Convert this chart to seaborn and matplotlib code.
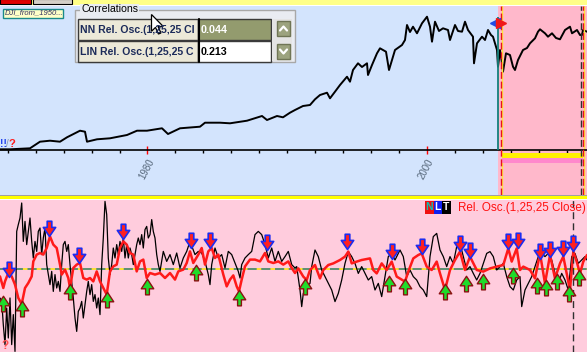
import matplotlib
matplotlib.use("Agg")
import matplotlib.pyplot as plt
import seaborn as sns
from matplotlib.path import Path
from matplotlib.patches import Rectangle, Polygon

# ---- data (x = bar number, 14 bars per year) ----
price_bar = [0, 10, 30, 40, 50, 60, 67, 80, 85, 87, 97, 110, 127, 137, 147, 162, 168, 180, 200, 205,
             220, 230, 247, 262, 267, 277, 283, 290, 295, 303, 310, 315, 320, 327, 330, 335, 340, 347,
             350, 353, 358, 362, 367, 368, 372, 377, 380, 386, 389, 395, 402, 405, 407, 410, 413, 417,
             422, 427, 430, 432, 435, 439, 443, 448, 450, 455, 458, 462, 465, 468, 473, 474, 477, 482,
             485, 488, 491, 493, 497, 498, 500, 502, 503, 506, 510, 513, 515, 518, 523, 527, 530, 535,
             538, 540, 545, 548, 552, 556, 560, 565, 570, 572, 577, 580, 582, 583, 587]
price_val = [70, 70, 170, 830, 930, 830, 1270, 1930, 1830, 830, 1070, 1170, 1500, 1930, 1930, 2170, 1600,
             2170, 2330, 2730, 2730, 2670, 2930, 3400, 3000, 3400, 3270, 3730, 4000, 4400, 4500, 5070,
             5500, 5730, 5170, 5830, 6500, 7330, 6830, 8000, 8670, 8300, 8670, 7500, 8500, 9670, 10170,
             9830, 8000, 10000, 10500, 11000, 12500, 11800, 12330, 11670, 12670, 13330, 12330, 10830,
             12830, 11900, 12170, 12000, 11000, 12500, 11900, 11830, 12830, 12000, 11330, 8670, 10670,
             11330, 11000, 12000, 11500, 11330, 10000, 8330, 10000, 8670, 7830, 9670, 9500, 8330, 8000,
             9000, 10000, 10200, 10670, 11170, 11830, 12070, 11670, 11330, 11670, 11200, 11070, 12000,
             12330, 11670, 12000, 11500, 11500, 12000, 11830]

year_tick_bars = [147, 427]
year_labels = ["1980", "2000"]
minor_tick_bars = [8, 36, 64, 92, 120, 175, 203, 231, 259, 287, 315, 343, 371, 399, 455, 483, 511, 539, 567]

event_bar, event_price = 498, 13300
forecast_start = 498

osc_black = [(0, -14.5), (1.7, -16), (3.3, -27.8), (5, -37.8), (6.7, -19.5), (8.3, -34.5), (10, -14.5),
             (11.7, -37.8), (13.3, -22.8), (15, -41.2), (16.7, 18.8), (18.3, 22.2), (20, 25.5), (21.7, 33),
             (23.3, 13.8), (25, 23.8), (26.7, 12.2), (28.3, 18.8), (30, 25.5), (31.7, 13.8), (33.3, 5.5),
             (35, 13.8), (36.7, 8.8), (38.3, 18.8), (40, 20.5), (41.7, 7.2), (43.3, 15.5), (45, 20.5),
             (46.7, 2.2), (48.3, -2.8), (50, -7.8), (51.7, -1.2), (53.3, -11.2), (55, -2.8), (56.7, -9.5),
             (58.3, -6.2), (60, -11.2), (61.7, 2.2), (63.3, 12.2), (65, 13.8), (66.7, 8.8), (68.3, 12.2),
             (70, 2.2), (71.7, -6.2), (73.3, -14.5), (75, -24.5), (76.7, -31.2), (78.3, -21.2), (80, -19.5),
             (81.7, -16.2), (83.3, -24.5), (85, -17.8), (86.7, -11.2), (88.3, -6.2), (90, -12.8),
             (91.7, -7.8), (93.3, -16.2), (95, -12.8), (96.7, -19.5), (98.3, -14.5), (100, -22.8),
             (101.7, 2.2), (103.3, 15.5), (105, 33.8), (106.7, 27.2), (108.3, 5.5), (110, -2.8),
             (111.7, 2.2), (113.3, 10.5), (115, 5.5), (116.7, 12.2), (118.3, 7.2), (120, 13.8), (121.7, 8.8),
             (123.3, 15.5), (125, 5.5), (126.7, 12.2), (128.3, 5.5), (130, 10.5), (131.7, 7.2), (133.3, 2.2),
             (135, 7.2), (136.7, 12.2), (138.3, 15.5), (140, 12.2), (141.7, 17.2), (143.3, 10.5),
             (145, 19.7), (146.7, 21.3), (148.3, 15.5), (150, 17.2), (151.7, 24.7), (153.3, 18.8),
             (155, 15.5), (156.7, 7.2), (158.3, 2.2), (160, -1.2), (163.3, 8.8), (166.7, 3.8), (170, 7.2),
             (173.3, 2.2), (176.7, 8), (180, 0.5), (183.3, 5.5), (186.7, 8.8), (190, 13.8), (195, 7.2),
             (198.3, 8.8), (201.7, 8), (205, 3.8), (208.3, -2.8), (210, -7.8), (211.7, 2.2), (215, 10.5),
             (218.3, 5.5), (221.7, 7.2), (225, 0.5), (228.3, 8.8), (231.7, 7.2), (235, 3), (238.3, -1.2),
             (240, -4.5), (241.7, 2.2), (245, 5.5), (248.3, 7.2), (251.7, 8.8), (255, 17.2), (258.3, 18.8),
             (261.7, 17.2), (265, 12.2), (268.3, 5.5), (271.7, 10.5), (275, 3.8), (278.3, 8.8),
             (281.7, 3.8), (285, 6.2), (288.3, 8.8), (291.7, 2.2), (295, 0.5), (296.7, 1.2), (300, -10.5),
             (301.7, -18.8), (303.3, -12.2), (306.7, -8.8), (310, -7.2), (311.7, 1.2), (315, 9.5),
             (318.3, 6.2), (321.7, -0.5), (325, -3.8), (328.3, -7.2), (331.7, -10.5), (335, -16.3),
             (338.3, -12.2), (341.7, -5.5), (345, 2.8), (348.3, 8.7), (351.7, 6.2), (355, 2.8),
             (358.3, -2.2), (361.7, 1.2), (365, -2.2), (368.3, -5.5), (371.7, -3.8), (375, -10.5),
             (378.3, -7.2), (381.7, -13.8), (385, -3.8), (388.3, 6.2), (391.7, 7.8), (395, 4.5), (400, 9.5),
             (403.3, 6.2), (406.7, -3.8), (410, -0.5), (413.3, -3.8), (416.7, -5.5), (420, -8.8),
             (423.3, -10.5), (426.7, -13.8), (430, 6.2), (433.3, 16.2), (436.7, 17.8), (440, 9.5),
             (443.3, 6.2), (446.7, 1.2), (450, 6.2), (453.3, 2.8), (456.7, 11.2), (460, 12.8), (463.3, 6.2),
             (466.7, -0.5), (470, 1.2), (473.3, -2.2), (476.7, -5.5), (480, -2.2), (483.3, 2.8),
             (486.7, 7.8), (490, 8.7), (493.3, 6.2), (496.7, -0.5), (500, 1.2), (503.3, 2.8), (506.7, -3.8),
             (510, -8.8), (513.3, -10.5), (516.7, -5.5), (520, -3.8), (521.7, -18.8), (525, -10.5),
             (528.3, -7.2), (531.7, -3.8), (535, 1.2), (538.3, 6.2), (541.7, 7.8), (545, 6.2), (548.3, 7.8),
             (551.7, 4.5), (555, -2.2), (558.3, -7.2), (561.7, -2.2), (565, -5.5), (568.3, -10.5),
             (571.7, 6.2), (575, 7.8), (578.3, 2.8), (581.7, 4.5), (585, 6.2), (587, 4.5)]

osc_red = [(0, -3.7), (3.3, -9.5), (5, -6.2), (8.3, -2), (11.7, -3.7), (15, -7.8), (18.3, -14.5),
           (21.7, -17.5), (25, -9.5), (28.3, -7), (31.7, -3.7), (33.3, 3.8), (36.7, 7.2), (40, 8),
           (43.3, 7.2), (46.7, 10.5), (50, 16.3), (53.3, 12.2), (56.7, 10.5), (60, 2.2), (61.7, -2.8),
           (65, -0.3), (68.3, -4.5), (70, -9.5), (73.3, 0.5), (76.7, 2.2), (80, 3), (83.3, -4.5),
           (86.7, -5.3), (90, -4.5), (93.3, -6.2), (96.7, -1.2), (100, -6.2), (103.3, -9.5), (106.7, -12.8),
           (110, -1.2), (113.3, 1.3), (116.7, 2.2), (120, 10.5), (123.3, 13.8), (126.7, 12.2), (130, 8),
           (133.3, 7.2), (136.7, -1.2), (140, 3.8), (143.3, 4.7), (146.7, -4.5), (150, -2), (155, -2.8),
           (160, -2), (165, -4.5), (170, -2), (175, -5.3), (178.3, -1.2), (183.3, -0.3), (186.7, 3),
           (190, 8.8), (193.3, 3), (198.3, 7.2), (201.7, 10.5), (205, 2.2), (208.3, 8.8), (211.7, 10.5),
           (215, 5.5), (218.3, 7.2), (223.3, -2.8), (226.7, -8.7), (230, -5.3), (233.3, -3.2),
           (236.7, -8.7), (239, -11.2), (241.7, -5.3), (245, 1.3), (250, 4.7), (255, 4.7), (260, 3.8),
           (265, 8), (268.3, 3.8), (273.3, 3), (278.3, 3.8), (283.3, 2.2), (288.3, 3.8), (291.7, 0.5),
           (295, -2), (298.3, 0.3), (303.3, -3.8), (306.7, -5.5), (310, -0.5), (315, 2), (320, -4.7),
           (323.3, -0.5), (328.3, 2), (333.3, 2.8), (340, 4.5), (345, 6.2), (348.3, 8.7), (351.7, 2.8),
           (356.7, 3.7), (361.7, 4.5), (370, 5.3), (373.3, -0.5), (376.7, -2.2), (381.7, 2.8),
           (386.7, -0.5), (391.7, 3.7), (396.7, -3.8), (405, -6.3), (408.3, -1.3), (413.3, 5.3),
           (418.3, 7), (421.7, 7.8), (426.7, 1.2), (431.7, -0.5), (436.7, 3.7), (440, -2.2), (445, -10.5),
           (450, -0.5), (455, 4.5), (460, 8.7), (465, -0.5), (470, 6.2), (476.7, -0.5), (483.3, -1.3),
           (490, 0.3), (496.7, 1.2), (503.3, 2), (508.3, 10.3), (511.7, 3.7), (516.7, 10.3), (520, -0.5),
           (523.3, 1.2), (530, -0.5), (535, -4.7), (540, 7.8), (545, -7.2), (550, 7), (555, -4.7),
           (560, 2.8), (563.3, 6.2), (566.7, -2.2), (570, -10.5), (573.3, 8.7), (576.7, 3.7), (580, -2.2),
           (583.3, 3.7), (587, 7)]

sell_signals = [(9, -0.5), (49, 20.2), (79, 6.3), (123, 18.5), (191, 13.8), (210, 14.2), (267, 12.8),
                (347, 13.3), (392, 8.5), (422, 11.2), (460, 12.3), (470, 9.2), (508, 13.7), (518, 14.2),
                (540, 8.3), (550, 9.5), (563, 9.8), (573, 12.5)]
buy_signals = [(3, -17.5), (22, -19.8), (70, -11.5), (107, -15.5), (147, -9), (196, -2), (239, -14.5),
               (305, -8.8), (389, -7.5), (405, -8.8), (445, -11.3), (466, -7.5), (483, -6.3), (513, -3.5),
               (537, -8.5), (546, -9.3), (557, -6.3), (569, -12.5), (579, -4.7)]

# the grid column is too narrow, so the names show cut off like this
corr_names = ["NN Rel. Osc.(1,25,25 Cl", "LIN Rel. Osc.(1,25,25 C"]
corr_values = ["0.044", "0.213"]

# ---- style ----
sns.set_style("white")
plt.rcParams["font.family"] = ["Liberation Sans", "DejaVu Sans"]

W, H = 587.0, 352.0
fig = plt.figure(figsize=(5.87, 3.52), dpi=100)


def panel(top, bottom, **kw):
    return fig.add_axes([0, 1 - bottom / H, 1, (bottom - top) / H], **kw)


def clean(ax):
    for s in ax.spines.values():
        s.set_visible(False)
    ax.set_yticks([])
    ax.set_xlabel("")
    ax.set_ylabel("")


# ---- upper panel: price ----
ax1 = panel(6, 195)
ax1.set_facecolor("#D3E4FD")
ax1.axvspan(forecast_start, W, color="#FFB8CB", zorder=0, lw=0)
sns.lineplot(x=price_bar, y=price_val, ax=ax1, color="black", linewidth=1.4,
             sort=False, estimator=None)
ax1.set_xlim(0, W)
ax1.set_ylim(-4500, 14400)
clean(ax1)
ax1.spines["bottom"].set_visible(True)
ax1.spines["bottom"].set_position(("data", 0))
ax1.spines["bottom"].set_linewidth(1.2)
ax1.spines["bottom"].set_color("black")
ax1.set_xticks(year_tick_bars, labels=year_labels)
ax1.set_xticks(minor_tick_bars, minor=True)
ax1.tick_params(axis="x", which="major", direction="inout", length=6, width=1, color="red",
                labelcolor="#56677A", labelsize=7, pad=2, bottom=True)
ax1.tick_params(axis="x", which="minor", direction="out", length=2.5, width=1, color="black",
                bottom=True)
for lab in ax1.get_xticklabels():
    lab.set_rotation(62)
    lab.set_ha("right")
    lab.set_va("top")
    lab.set_rotation_mode("anchor")

# event / cursor lines
ax1.vlines(event_bar, 0, event_price, color="#14807C", lw=1.3, zorder=3)
ax1.plot(event_bar - 2.6, event_price - 550, marker="<", color="#1E4BE6", ms=6.5, zorder=4)
ax1.plot(event_bar + 2.6, event_price - 550, marker=">", color="#F01818", ms=6.5, zorder=4)
for xb in (502.3, 584.2):
    ax1.axvline(xb, color="#FFE83A", lw=1, zorder=2)
for xb in (501.2, 582.9):
    ax1.axvline(xb, color="#E81020", lw=1, ls=(0, (5, 2)), zorder=3)
ax1.axvline(580.6, color="#303030", lw=1, ls=(0, (5, 2)), zorder=3)
ax1.fill_between([502, 583], -300, -750, color="#FFF000", lw=0, zorder=2)
ax1.fill_between([502, 583], -800, -1300, color="#FF88CC", lw=0, zorder=2)

# ---- lower panel: oscillator ----
ax2 = panel(199, 352)
ax2.set_facecolor("#FFCCDD")
ax2.axhline(0, color="#FFE600", lw=1.1, zorder=1)
ax2.axhline(0, color="#2F7A88", lw=1.1, dashes=(6, 3), zorder=1)
bx, by = zip(*osc_black)
rx, ry = zip(*osc_red)
sns.lineplot(x=list(bx), y=list(by), ax=ax2, color="black", linewidth=0.9, sort=False, estimator=None)
sns.lineplot(x=list(rx), y=list(ry), ax=ax2, color="#FF1A1A", linewidth=1.8, sort=False, estimator=None)

down_arrow = Path([(-0.28, 1.0), (0.28, 1.0), (0.28, 0.25), (0.75, 0.25), (0, -0.85), (-0.75, 0.25),
                   (-0.28, 0.25), (-0.28, 1.0)],
                  [Path.MOVETO] + [Path.LINETO] * 6 + [Path.CLOSEPOLY])
up_tree = Path([(0, 0.95), (0.72, -0.15), (0.22, -0.15), (0.22, -0.85), (-0.22, -0.85), (-0.22, -0.15),
                (-0.72, -0.15), (0, 0.95)],
               [Path.MOVETO] + [Path.LINETO] * 6 + [Path.CLOSEPOLY])
sx, sy = zip(*sell_signals)
ux, uy = zip(*buy_signals)
sns.scatterplot(x=list(sx), y=list(sy), ax=ax2, marker=down_arrow, s=140, color="#FF2020",
                edgecolor="#1C2CF0", linewidth=1.2, zorder=5)
sns.scatterplot(x=list(ux), y=list(uy), ax=ax2, marker=up_tree, s=140, color="#1EDC2A",
                edgecolor="#8A1010", linewidth=1.0, zorder=5)
ax2.axvline(573, color="#303030", lw=1, ls=(0, (5, 3)), zorder=4)
ax2.set_xlim(0, W)
ax2.set_ylim(-41.5, 35)
clean(ax2)
ax2.set_xticks([])

# ---- window chrome ----
ui = fig.add_axes([0, 0, 1, 1], zorder=10)
ui.set_xlim(0, W)
ui.set_ylim(H, 0)
ui.axis("off")


def box(x, y, w, h, fc, ec="none", lw=0, **kw):
    ui.add_patch(Rectangle((x, y), w, h, facecolor=fc, edgecolor=ec, linewidth=lw, **kw))


box(0, 0, W, 4.5, "#FFFF88")
box(0, 4.5, W, 1.5, "white")
box(0, -1, 31, 4.5, "#E00000", "black", 0.8)
box(33, -1, 39, 4.5, "#D4D0C8", "black", 0.8)
box(0, 194.5, W, 1, "#A0A0A0")
box(0, 195.5, W, 3, "#FFFF00")
box(0, 198.5, W, 1, "white")

# series label
box(2.5, 8.5, 60, 9, "#FFFFC8", "#1A8A8A", 1)
ui.text(5, 13.2, "DJI_from_1950...", fontsize=5.5, style="italic", color="#303060", va="center")

# correlations group
box(75, 9.5, 220, 52.5, "#E9ECF2", "#A8A8A8", 1)
box(80, 4, 59, 10, "#E9ECF2")
ui.text(82, 9.5, "Correlations", fontsize=7.6, color="black", va="center")
rows_y = [19, 41]
for i, (name, val) in enumerate(zip(corr_names, corr_values)):
    y0 = rows_y[i]
    box(78, y0, 120, 21, "#ECE9D8", "#3A3A3A", 1)
    box(198, y0, 73, 21, "#939B6E" if i == 0 else "white", "#3A3A3A", 1)
    clip = Rectangle((78, y0), 119.5, 21, transform=ui.transData)
    t = ui.text(80, y0 + 11, name, fontsize=7.6, fontweight="bold", color="#1C2B5A", va="center",
                clip_on=True)
    t.set_clip_path(clip)
    ui.text(201, y0 + 11, val, fontsize=7.7, fontweight="bold",
            color="white" if i == 0 else "black", va="center")
ui.plot([198.5, 198.5], [19, 62], color="black", lw=1.5)
box(272, 19, 20, 42, "#E4E4E4")
for j, y0 in enumerate([21, 44]):
    box(277, y0, 13, 15, "#9CA37E", "#6F7555", 1)
    cy = y0 + 7.5
    d = -2 if j == 0 else 2
    ui.plot([280, 283.5, 287], [cy - d, cy + d, cy - d], color="white", lw=1.6)

# mouse pointer
cur = [(0, 0), (0, 16), (3.8, 12.3), (6.6, 18.6), (9, 17.6), (6.2, 11.4), (11.2, 11.4)]
ui.add_patch(Polygon([(151.5 + 1.05 * a, 14.5 + 1.05 * b) for a, b in cur], closed=True,
                     facecolor="white", edgecolor="black", lw=0.9))

# legend of the oscillator pane
for k, (ch, bg, fg) in enumerate([("N", "#F01010", "#10C0B0"), ("L", "#1020F0", "white"),
                                  ("T", "black", "white")]):
    box(425 + 8.5 * k, 200.5, 8.5, 13.5, bg)
    ui.text(429.25 + 8.5 * k, 207.5, ch, fontsize=7.5, fontweight="bold", color=fg,
            ha="center", va="center")
ui.text(586, 207.5, "Rel. Osc.(1,25,25 Close)", fontsize=8.4, color="#FF1010",
        ha="right", va="center")

# marks in the corners
ui.text(0, 147, "!!", fontsize=7.5, fontweight="bold", color="#2244EE")
ui.text(5.6, 147, "/", fontsize=7, color="#8090A8")
ui.text(8.6, 147, "?", fontsize=8, fontweight="bold", color="#FF2020")
ui.text(1.5, 349, "?", fontsize=8.5, fontweight="bold", color="#FF5050")

fig.savefig("out.png", dpi=100)
